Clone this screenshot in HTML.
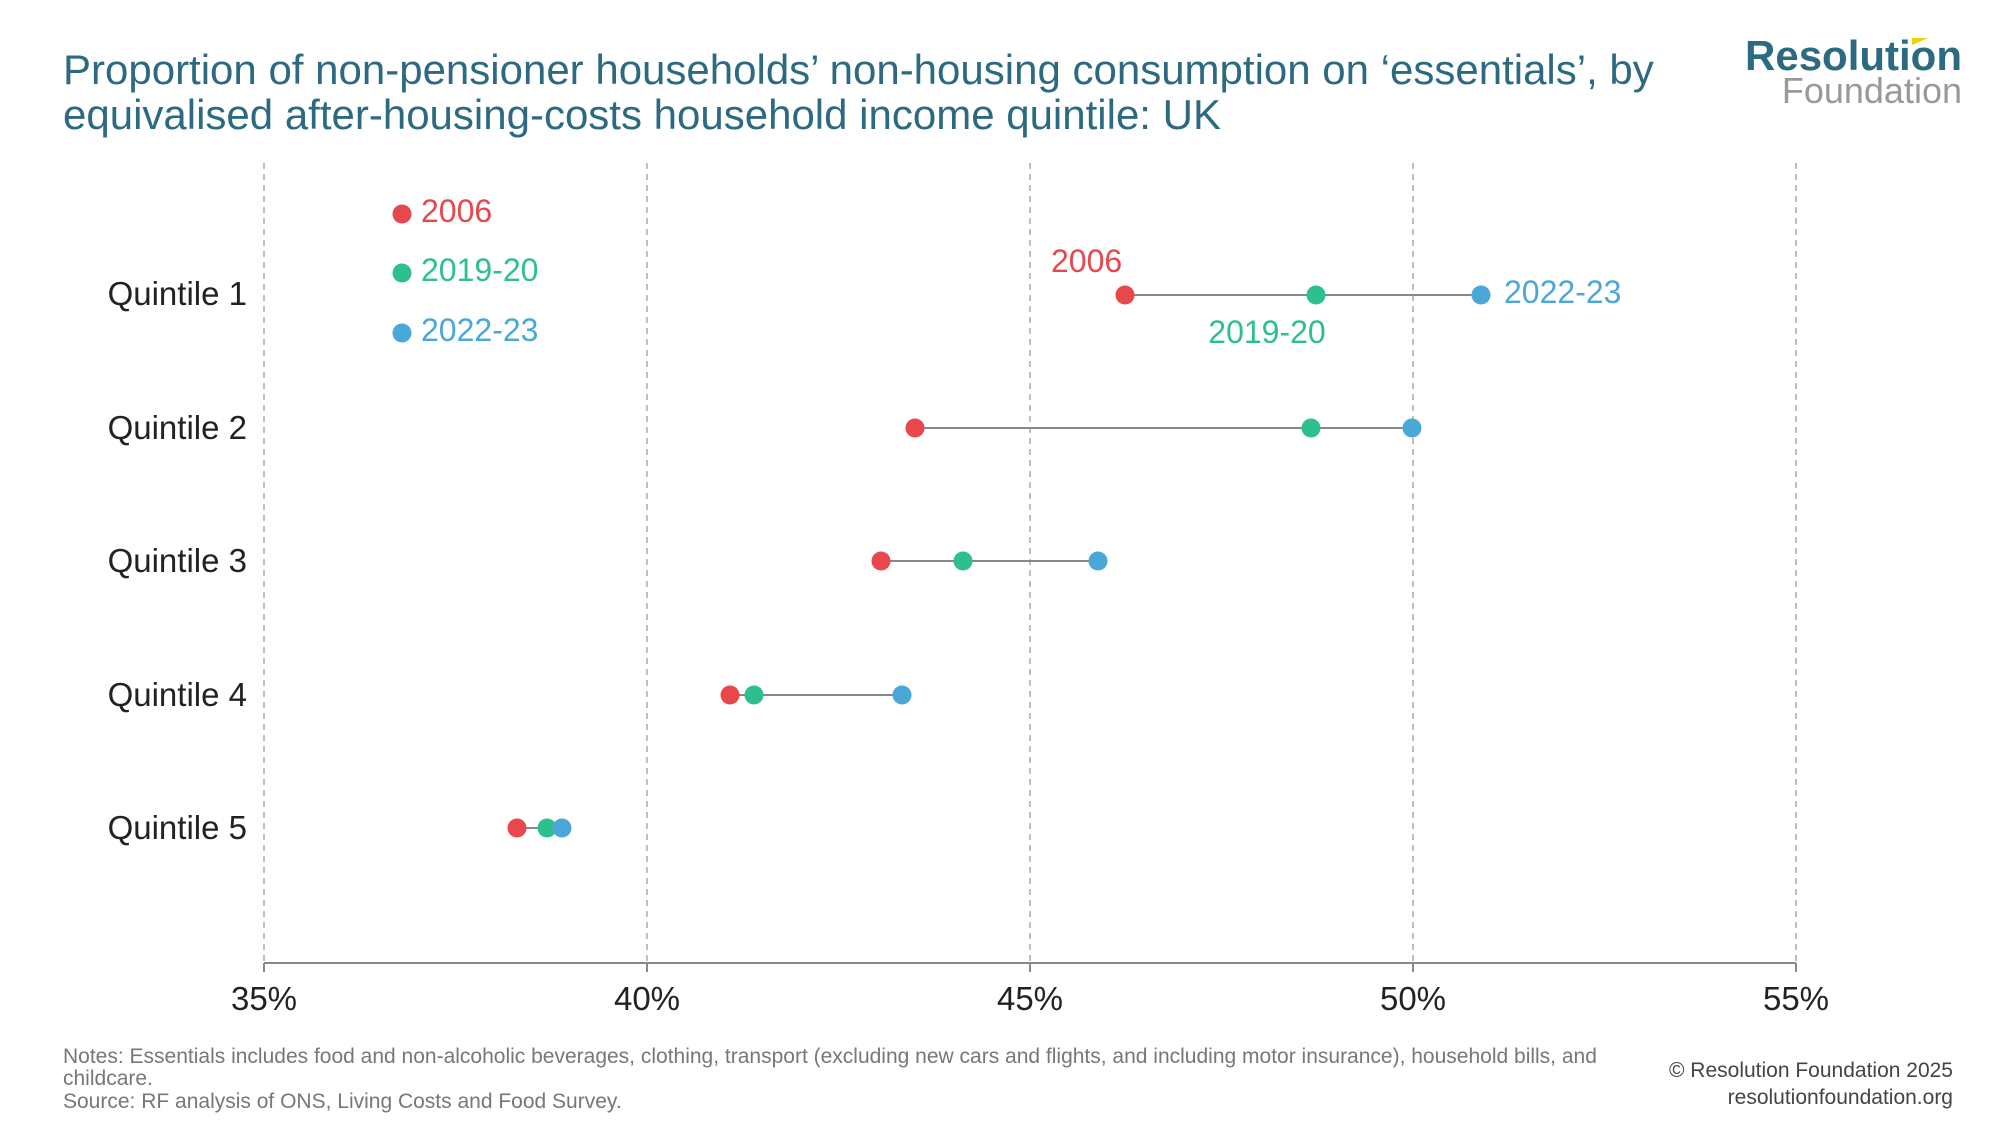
<!DOCTYPE html>
<html><head><meta charset="utf-8"><style>
body{margin:0;width:2000px;height:1125px;background:#fff;overflow:hidden;font-family:"Liberation Sans",sans-serif;}
</style></head><body>
<svg width="2000" height="1125" xmlns="http://www.w3.org/2000/svg" font-family="Liberation Sans, sans-serif">
<text x="63" y="84" font-size="42" fill="#2b6a80">Proportion of non-pensioner households’ non-housing consumption on ‘essentials’, by</text>
<text x="63" y="129" font-size="42" fill="#2b6a80">equivalised after-housing-costs household income quintile: UK</text>
<text x="1962" y="70" font-size="42" font-weight="bold" fill="#2b6a80" text-anchor="end">Resolution</text>
<polygon points="1912,38 1928,38 1912,45" fill="#f2d000"/>
<text x="1962" y="103" font-size="36" fill="#999" text-anchor="end">Foundation</text>
<g stroke="#aaa" stroke-width="1.5" stroke-dasharray="6,5">
<line x1="264" y1="163" x2="264" y2="963"/><line x1="647" y1="163" x2="647" y2="963"/><line x1="1030" y1="163" x2="1030" y2="963"/><line x1="1413" y1="163" x2="1413" y2="963"/><line x1="1796" y1="163" x2="1796" y2="963"/>
</g>
<line x1="264" y1="963" x2="1796" y2="963" stroke="#888" stroke-width="2"/>
<g stroke="#888" stroke-width="2"><line x1="264" y1="963" x2="264" y2="972"/><line x1="647" y1="963" x2="647" y2="972"/><line x1="1030" y1="963" x2="1030" y2="972"/><line x1="1413" y1="963" x2="1413" y2="972"/><line x1="1796" y1="963" x2="1796" y2="972"/></g>
<g font-size="33" fill="#222" text-anchor="middle">
<text x="264" y="1010">35%</text><text x="647" y="1010">40%</text><text x="1030" y="1010">45%</text><text x="1413" y="1010">50%</text><text x="1796" y="1010">55%</text>
</g>
<g font-size="33" fill="#222" text-anchor="end">
<text x="247" y="305">Quintile 1</text><text x="247" y="439">Quintile 2</text><text x="247" y="572">Quintile 3</text><text x="247" y="706">Quintile 4</text><text x="247" y="839">Quintile 5</text>
</g>
<g stroke="#888" stroke-width="2">
<line x1="1125" y1="295" x2="1481" y2="295"/><line x1="915" y1="428" x2="1412" y2="428"/><line x1="881" y1="561" x2="1098" y2="561"/><line x1="730" y1="695" x2="902" y2="695"/><line x1="517" y1="828" x2="562" y2="828"/>
</g>
<g>
<circle cx="1125" cy="295" r="9.5" fill="#e8474c"/><circle cx="1316" cy="295" r="9.5" fill="#2ebf8f"/><circle cx="1481" cy="295" r="9.5" fill="#4aa8d8"/>
<circle cx="915" cy="428" r="9.5" fill="#e8474c"/><circle cx="1311" cy="428" r="9.5" fill="#2ebf8f"/><circle cx="1412" cy="428" r="9.5" fill="#4aa8d8"/>
<circle cx="881" cy="561" r="9.5" fill="#e8474c"/><circle cx="963" cy="561" r="9.5" fill="#2ebf8f"/><circle cx="1098" cy="561" r="9.5" fill="#4aa8d8"/>
<circle cx="730" cy="695" r="9.5" fill="#e8474c"/><circle cx="754" cy="695" r="9.5" fill="#2ebf8f"/><circle cx="902" cy="695" r="9.5" fill="#4aa8d8"/>
<circle cx="517" cy="828" r="9.5" fill="#e8474c"/><circle cx="547" cy="828" r="9.5" fill="#2ebf8f"/><circle cx="562" cy="828" r="9.5" fill="#4aa8d8"/>
</g>
<circle cx="402" cy="214" r="9.5" fill="#e8474c"/><circle cx="402" cy="273" r="9.5" fill="#2ebf8f"/><circle cx="402" cy="333" r="9.5" fill="#4aa8d8"/>
<g font-size="32">
<text x="421" y="222" fill="#e8474c">2006</text><text x="421" y="281" fill="#2ebf8f">2019-20</text><text x="421" y="341" fill="#4aa8d8">2022-23</text>
<text x="1051" y="272" fill="#e8474c">2006</text><text x="1504" y="303" fill="#4aa8d8">2022-23</text><text x="1267" y="343" fill="#2ebf8f" text-anchor="middle">2019-20</text>
</g>
<g font-size="21" fill="#777">
<text x="63" y="1063">Notes: Essentials includes food and non-alcoholic beverages, clothing, transport (excluding new cars and flights, and including motor insurance), household bills, and</text>
<text x="63" y="1085">childcare.</text>
<text x="63" y="1108">Source: RF analysis of ONS, Living Costs and Food Survey.</text>
</g>
<g font-size="21" fill="#444" text-anchor="end">
<text x="1953" y="1077">© Resolution Foundation 2025</text><text x="1953" y="1104">resolutionfoundation.org</text>
</g>
</svg>
</body></html>
